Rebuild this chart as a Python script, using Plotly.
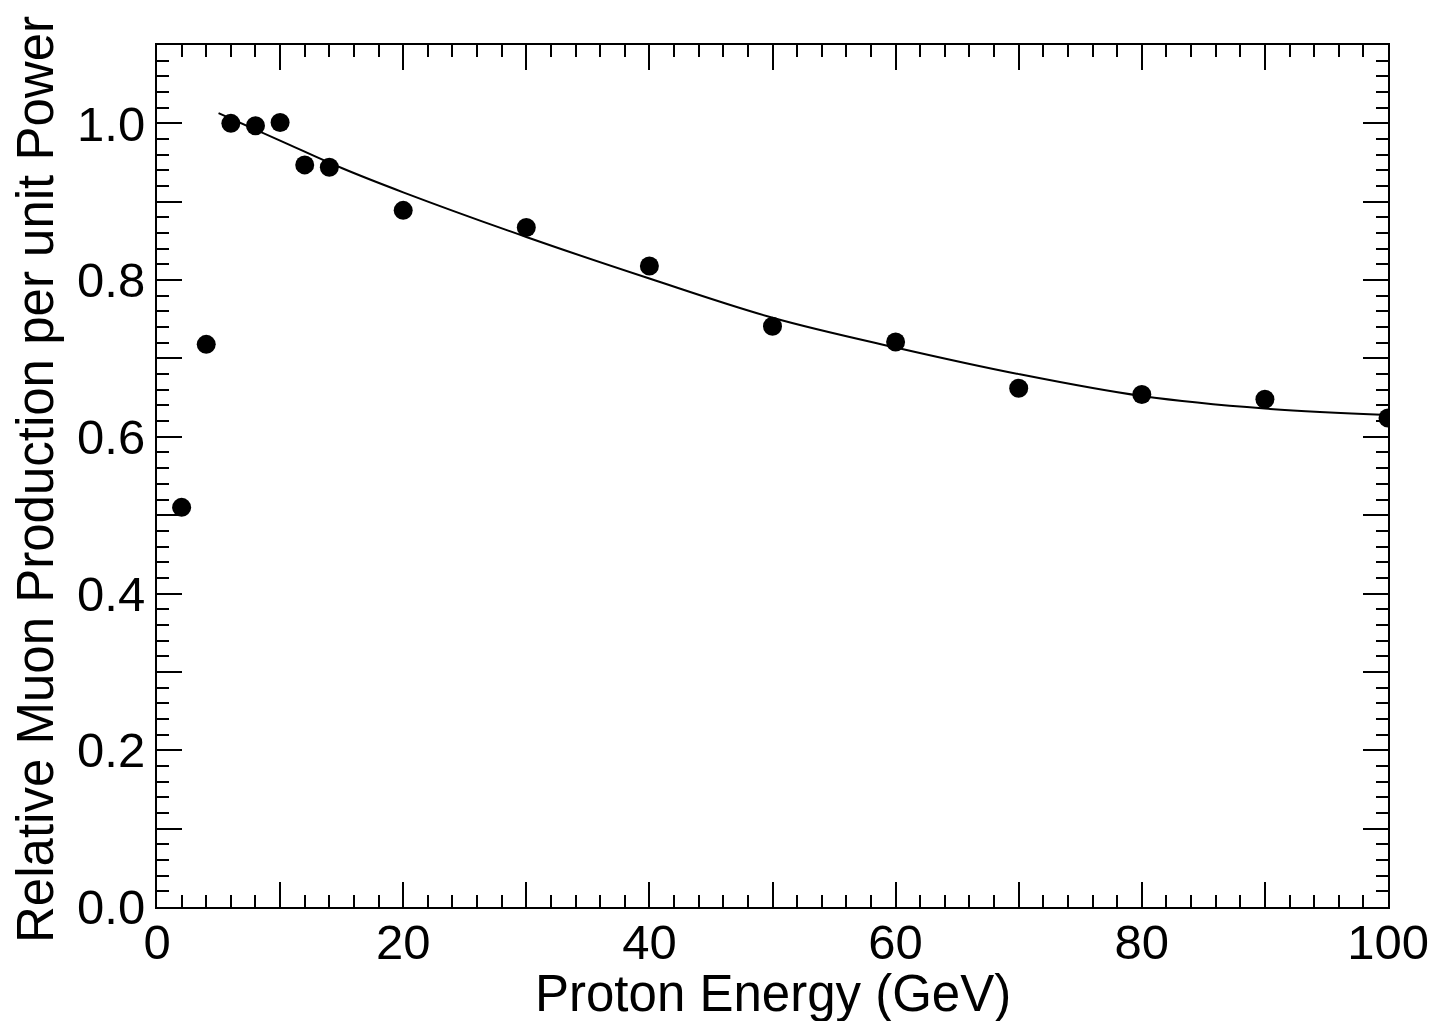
import plotly.graph_objects as go

# Data points
energy = [2, 4, 6, 8, 10, 12, 14, 20, 30, 40, 50, 60, 70, 80, 90, 100]
production = [0.510, 0.718, 1.000, 0.997, 1.001, 0.947, 0.944, 0.889, 0.867,
              0.818, 0.741, 0.721, 0.662, 0.654, 0.648, 0.624]

# Fitted curve
fit_x = [5, 10, 15, 20, 30, 40, 50, 60, 70, 80, 90, 100]
fit_y = [1.013, 0.978, 0.943, 0.912, 0.855, 0.802, 0.752, 0.714, 0.680, 0.652, 0.636, 0.628]

x_tickvals = [0, 10, 20, 30, 40, 50, 60, 70, 80, 90, 100]
x_ticktext = ["0", "", "20", "", "40", "", "60", "", "80", "", "100"]
y_tickvals = [0.0, 0.1, 0.2, 0.3, 0.4, 0.5, 0.6, 0.7, 0.8, 0.9, 1.0, 1.1]
y_ticktext = ["0.0", "", "0.2", "", "0.4", "", "0.6", "", "0.8", "", "1.0", ""]

FONT = "Liberation Sans, Arial, Helvetica, sans-serif"

fig = go.Figure()
fig.add_trace(go.Scatter(x=fit_x, y=fit_y, mode="lines",
                         line=dict(color="black", width=2, shape="spline", smoothing=1.0),
                         showlegend=False, hoverinfo="skip"))
fig.add_trace(go.Scatter(x=energy, y=production, mode="markers",
                         marker=dict(color="black", size=19, line=dict(width=0)),
                         showlegend=False))

axis_common = dict(
    showgrid=False, zeroline=False,
    showline=True, linecolor="black", linewidth=2, mirror="ticks",
    ticks="inside", ticklen=25, tickwidth=2, tickcolor="black",
    tickfont=dict(family=FONT, size=49, color="black"),
    tickmode="array",
)

fig.update_xaxes(**axis_common, range=[0, 100], tickvals=x_tickvals, ticktext=x_ticktext,
                 ticklabelstandoff=-9,
                 minor=dict(tickmode="linear", tick0=0, dtick=2, ticklen=12, tickwidth=2,
                            tickcolor="black", ticks="inside"))
fig.update_yaxes(**axis_common, range=[0, 1.1], tickvals=y_tickvals, ticktext=y_ticktext,
                 minor=dict(tickmode="linear", tick0=0, dtick=0.02, ticklen=12, tickwidth=2,
                            tickcolor="black", ticks="inside"))

fig.add_annotation(text="Proton Energy (GeV)", xref="paper", yref="paper",
                   x=0.5, y=0, xanchor="center", yanchor="middle", yshift=-86,
                   showarrow=False, font=dict(family=FONT, size=51, color="black"))
fig.add_annotation(text="Relative Muon Production per unit Power", xref="paper", yref="paper",
                   x=0, y=0.5, xanchor="center", yanchor="middle", xshift=-122, yshift=-4,
                   textangle=-90, showarrow=False,
                   font=dict(family=FONT, size=51, color="black"))

fig.update_layout(
    width=1441, height=1021,
    margin=dict(l=149, r=61, t=37, b=122, autoexpand=False),
    paper_bgcolor="white", plot_bgcolor="white",
    font=dict(family=FONT, color="black"),
)

fig.write_html("out.html")
